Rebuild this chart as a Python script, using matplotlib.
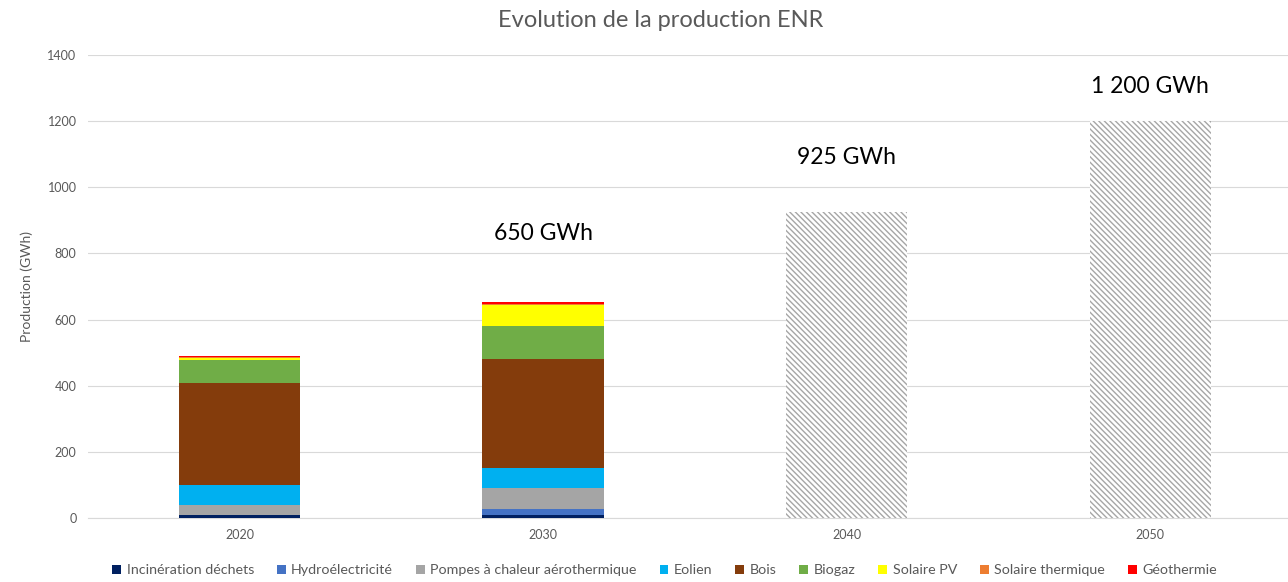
import matplotlib.pyplot as plt
import numpy as np

plt.rcParams['font.family'] = ['Lato', 'DejaVu Sans']
plt.rcParams['hatch.linewidth'] = 1.0

# données (GWh)
years = ["2020", "2030", "2040", "2050"]
sources = ["Incinération déchets", "Hydroélectricité", "Pompes à chaleur aérothermique",
           "Eolien", "Bois", "Biogaz", "Solaire PV", "Solaire thermique", "Géothermie"]
colors = ["#002060", "#4472C4", "#A5A5A5", "#00B0F0", "#843C0C",
          "#70AD47", "#FFFF00", "#ED7D31", "#FF0000"]
prod_2020 = [8, 2, 28, 61, 308, 71, 6, 3, 3]
prod_2030 = [8, 20, 63, 60, 329, 100, 63, 4, 6]
targets = [925, 1200]
total_labels = ["650 GWh", "925 GWh", "1 200 GWh"]
label_pos = [860, 1090, 1305]

fig = plt.figure(figsize=(12.88, 5.82), dpi=100)
ax = fig.add_axes([0.068, 0.11, 0.943, 0.7955])

x = np.arange(len(years))
width = 0.4
stack = np.array([prod_2020, prod_2030]).T
bottom = np.zeros(2)
for i, src in enumerate(sources):
    ax.bar(x[:2], stack[i], width, bottom=bottom, color=colors[i], label=src, zorder=3)
    bottom += stack[i]

ax.bar(x[2:], targets, width, color="white", edgecolor="#A6A6A6",
       hatch="\\" * 6, linewidth=0, zorder=3)

for xi, txt, yp in zip(x[1:], total_labels, label_pos):
    ax.text(xi, yp, txt, ha="center", va="center", fontsize=16.5, color="black")

ax.set_xlim(-0.5, 3.5)
ax.set_ylim(0, 1400)
ax.set_yticks(range(0, 1401, 200))
ax.set_xticks(x)
ax.set_xticklabels(years)
ax.tick_params(axis="both", length=0, labelsize=9, colors="#595959", pad=8)
ax.grid(axis="y", color="#D9D9D9", linewidth=0.8, zorder=0)
for s in ["top", "right", "left"]:
    ax.spines[s].set_visible(False)
ax.spines["bottom"].set_color("#D9D9D9")
ax.set_ylabel("Production (GWh)", fontsize=10, color="#595959", labelpad=10)

fig.text(0.513, 0.965, "Evolution de la production ENR", fontsize=17,
         color="#595959", ha="center", va="center")

fig.legend(*ax.get_legend_handles_labels(), loc="center", bbox_to_anchor=(0.516, 0.02),
           ncol=9, frameon=False, fontsize=10.3, handlelength=0.6, handleheight=0.6,
           handletextpad=0.4, columnspacing=1.6, labelcolor="#595959")

fig.savefig("out.png", dpi=100)
